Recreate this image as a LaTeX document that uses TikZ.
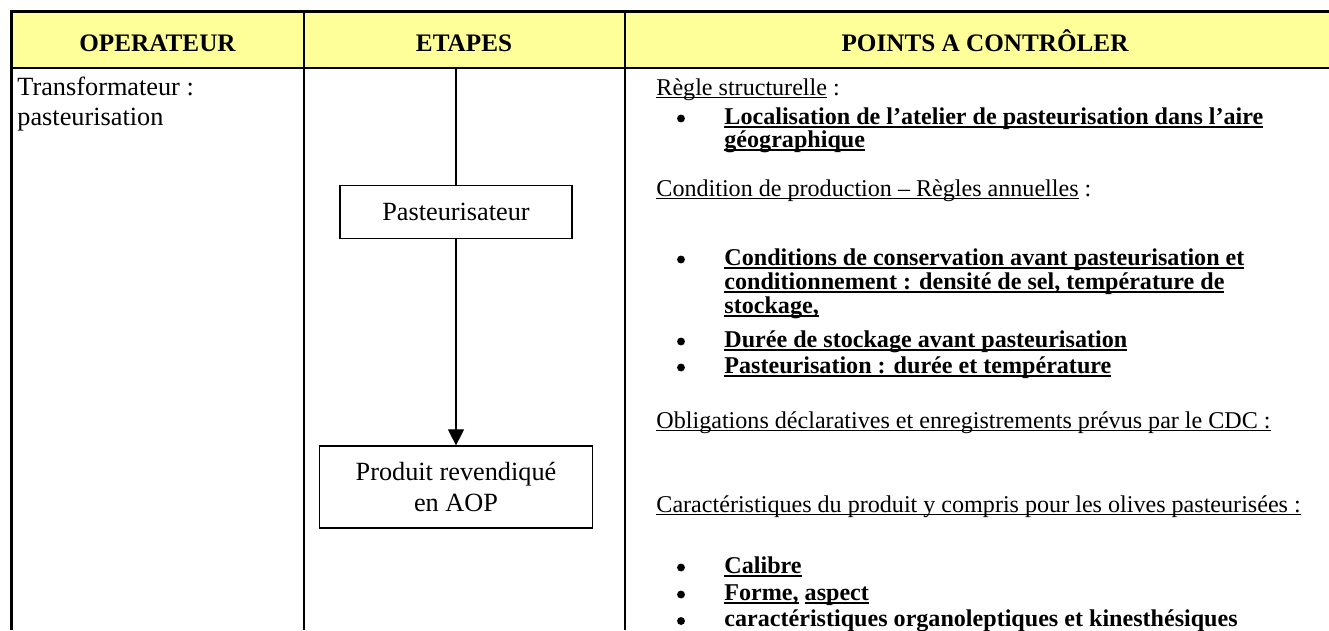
\documentclass[tikz,border=0pt]{standalone}
\usepackage{fontspec}
\setmainfont{Liberation Serif}
\usetikzlibrary{arrows.meta}
\definecolor{hdrfill}{HTML}{FFFF99}
\newcommand\ulr[1]{\setbox0=\hbox{#1}\rlap{\rule[-1.3pt]{\wd0}{0.5pt}}\box0\relax}
\newcommand\ulb[1]{\setbox0=\hbox{#1}\rlap{\rule[-1.8pt]{\wd0}{0.95pt}}\box0\relax}
\begin{document}
\begin{tikzpicture}[x=0.4566pt,y=-0.4566pt,
  hdr/.style={font=\fontsize{11.5}{13.2}\selectfont\bfseries, inner sep=0pt, anchor=base},
  body/.style={font=\fontsize{11}{12.65}\selectfont, inner sep=0pt, anchor=base west},
  bodyb/.style={font=\fontsize{11}{12.65}\selectfont\bfseries, inner sep=0pt, anchor=base west},
  opr/.style={font=\fontsize{12}{13.8}\selectfont, inner sep=0pt, anchor=base west},
  dot/.style={circle, fill=black, inner sep=0pt, minimum size=3.6pt},
  stepbox/.style={draw, line width=0.6pt, font=\fontsize{12}{13.8}\selectfont, align=center, inner sep=0pt},
  conn/.style={line width=0.5pt},
  outer/.style={line width=1.23pt},
  sep/.style={line width=0.9pt}]
\useasboundingbox (0,0) rectangle (1329,630);
% header
\fill[hdrfill] (12,12) rectangle (1329,67);
\draw[outer] (11.5,630) -- (11.5,11.5) -- (1329,11.5);
\draw[line width=1.05pt] (11.5,68) -- (1329,68);
\draw[sep] (304,11.5) -- (304,630);
\draw[sep] (625,11.5) -- (625,630);
\node[hdr] (h1) at (157.5,51) {OPERATEUR};
\node[hdr] (h2) at (464,51) {ETAPES};
\node[hdr] (h3) at (985,51) {POINTS A CONTRÔLER};
% operator column
\node[opr] (o1) at (17,95.5) {Transformateur :};
\node[opr] (o2) at (17,125.5) {pasteurisation};
% steps
\node[stepbox, minimum width=105.9pt, minimum height=24.2pt] (p1) at (456,212) {Pasteurisateur};
\node[stepbox, minimum width=124.6pt, minimum height=37.4pt] (p2) at (456,487) {Produit revendiqué\\en AOP};
\coordinate (atop) at (456,68);
\draw[conn] (atop) -- (p1.north);
\draw[conn, -{Triangle[width=7.3pt,length=7.3pt]}] (p1.south) -- (p2.north);
% points to control
\node[body] (t1) at (656,95) {\ulr{Règle structurelle} :};
\node[dot] (b1) at (681,118.5) {};
\node[bodyb] (t2) at (724,124) {\ulb{Localisation de l’atelier de pasteurisation dans l’aire}};
\node[bodyb] (t3) at (724,147) {\ulb{géographique}};
\node[body] (t4) at (656,196) {\ulr{Condition de production – Règles annuelles} :};
\node[dot] (b2) at (681,259.5) {};
\node[bodyb] (t5) at (724,265) {\ulb{Conditions de conservation avant pasteurisation et}};
\node[bodyb] (t6) at (724,289) {\ulb{conditionnement : densité de sel, température de}};
\node[bodyb] (t7) at (724,313) {\ulb{stockage,}};
\node[dot] (b3) at (681,341.5) {};
\node[bodyb] (t8) at (724,347) {\ulb{Durée de stockage avant pasteurisation}};
\node[dot] (b4) at (681,367.5) {};
\node[bodyb] (t9) at (724,373) {\ulb{Pasteurisation : durée et température}};
\node[body] (t10) at (656,428) {\ulr{Obligations déclaratives et enregistrements prévus par le CDC :}};
\node[body] (t11) at (656,512) {\ulr{Caractéristiques du produit y compris pour les olives pasteurisées :}};
\node[dot] (b5) at (681,567.5) {};
\node[bodyb] (t12) at (724,573) {\ulb{Calibre}};
\node[dot] (b6) at (681,594.5) {};
\node[bodyb] (t13) at (724,600) {\ulb{Forme,} \ulb{aspect}};
\node[dot] (b7) at (681,621) {};
\node[bodyb] (t14) at (724,626.5) {caractéristiques organoleptiques et kinesthésiques};
\end{tikzpicture}
\end{document}
